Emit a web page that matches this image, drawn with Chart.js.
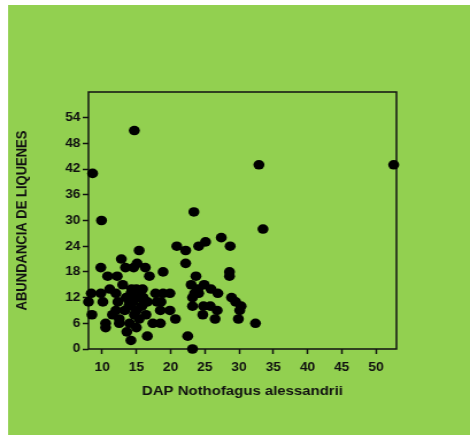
<!DOCTYPE html>
<html>
<head>
<meta charset="utf-8">
<script src="https://cdn.jsdelivr.net/npm/chart.js@4"></script>
<style>
  body { margin: 0; background: #ffffff; }
  #grafico { display: block; width: 470px; height: 435px; }
</style>
</head>
<body>
<canvas id="grafico" width="409" height="435" style="width:470px;height:435px"></canvas>
<script>
// DAP (x) y abundancia de liquenes (y)
let dap = [14.7, 8.6, 32.9, 52.6, 9.9, 23.4, 33.5, 20.9, 22.2, 24.1,
  25.1, 27.4, 28.7, 15.4, 22.2, 12.8, 9.8, 13.4, 15.1, 16.3,
  14.6, 10.8, 12.2, 16.9, 18.9, 13.0, 23.7, 28.6, 28.6, 8.4,
  8.0, 8.5, 10.1, 9.8, 11.1, 10.5, 10.5, 11.5, 12.5, 13.6,
  14.2, 16.6, 22.5, 23.2, 20.7, 17.4, 18.5, 19.9, 17.8, 18.9,
  19.9, 18.0, 18.5, 23.0, 24.0, 24.9, 25.9, 26.9, 23.2, 24.8,
  25.8, 26.8, 24.7, 26.5, 28.9, 29.5, 30.1, 29.9, 32.4, 23.2,
  23.5, 24.1, 30.3, 15.0, 15.9, 12.3, 14.0, 15.4, 13.3, 15.0,
  16.4, 12.5, 14.0, 15.4, 14.5, 14.2, 14.7, 13.9, 15.8, 14.6,
  16.0, 13.5, 16.6, 12.0, 15.0, 14.3, 18.6, 12.0];
let liquenes = [51, 41, 43, 43, 30, 32, 28, 24, 23, 24,
  25, 26, 24, 23, 20, 21, 19, 19, 20, 19,
  19, 17, 17, 17, 18, 15, 17, 18, 17, 13,
  11, 8, 11, 13, 14, 6, 5, 8, 6, 4,
  2, 3, 3, 0, 7, 6, 6, 9, 13, 13,
  13, 11, 9, 15, 14, 15, 14, 13, 10, 10,
  10, 9, 8, 7, 12, 11, 9, 7, 6, 12,
  13, 13, 10, 14, 14, 11, 11, 12, 9, 9,
  8, 7, 6, 7, 11, 13, 8, 10, 10, 12,
  12, 12, 11, 13, 5, 14, 11, 9];

let ticksX = [10, 15, 20, 25, 30, 35, 40, 45, 50];
let ticksY = [0, 6, 12, 18, 24, 30, 36, 42, 48, 54];

let puntos = dap.map((x, i) => ({x: x, y: liquenes[i]}));

// fondo verde y marco del area del grafico
const fondo = {
  id: 'fondo',
  beforeDraw(chart) {
    const c = chart.ctx;
    c.save();
    c.fillStyle = '#92D050';
    c.fillRect(7, 5, 402, 430);
    c.restore();
  },
  beforeDatasetsDraw(chart) {
    const a = chart.chartArea;
    const c = chart.ctx;
    c.save();
    c.strokeStyle = '#111';
    c.lineWidth = 1.5;
    c.strokeRect(a.left, a.top, a.right - a.left, a.bottom - a.top);
    c.restore();
  }
};

const fuente = {family: 'Liberation Sans, Arial, sans-serif', weight: 'bold', size: 12};

new Chart(document.getElementById('grafico'), {
  type: 'scatter',
  data: {
    datasets: [{
      data: puntos,
      backgroundColor: '#000',
      borderWidth: 0,
      pointRadius: 4.8,
      pointHoverRadius: 4.8,
      clip: false
    }]
  },
  options: {
    responsive: false,
    animation: false,
    devicePixelRatio: 1,
    layout: {padding: {top: 92, right: 64, bottom: 0, left: 0}},
    plugins: {legend: {display: false}, tooltip: {enabled: false}},
    scales: {
      x: {
        min: 8, max: 53,
        afterBuildTicks: s => { s.ticks = ticksX.map(v => ({value: v})); },
        afterFit: s => { s.height = 86; },
        grid: {drawOnChartArea: false, tickLength: 5, tickColor: '#111', tickWidth: 1.5},
        border: {display: false},
        ticks: {color: '#111', font: fuente, padding: 6, maxRotation: 0},
        title: {display: true, text: 'DAP Nothofagus alessandrii', color: '#111',
          font: {family: 'Liberation Sans, Arial, sans-serif', weight: 'bold', size: 13},
          padding: {top: 4, bottom: 36}}
      },
      y: {
        min: 0, max: 60,
        afterBuildTicks: s => { s.ticks = ticksY.map(v => ({value: v})); },
        afterFit: s => { s.width = 77; },
        grid: {drawOnChartArea: false, tickLength: 5, tickColor: '#111', tickWidth: 1.5},
        border: {display: false},
        ticks: {color: '#111', font: fuente, padding: 2},
        title: {display: true, text: 'ABUNDANCIA DE LIQUENES', color: '#111',
          font: {family: 'Liberation Sans, Arial, sans-serif', weight: 'bold', size: 13},
          padding: {top: 12, bottom: 4}}
      }
    }
  },
  plugins: [fondo]
});
</script>
</body>
</html>
